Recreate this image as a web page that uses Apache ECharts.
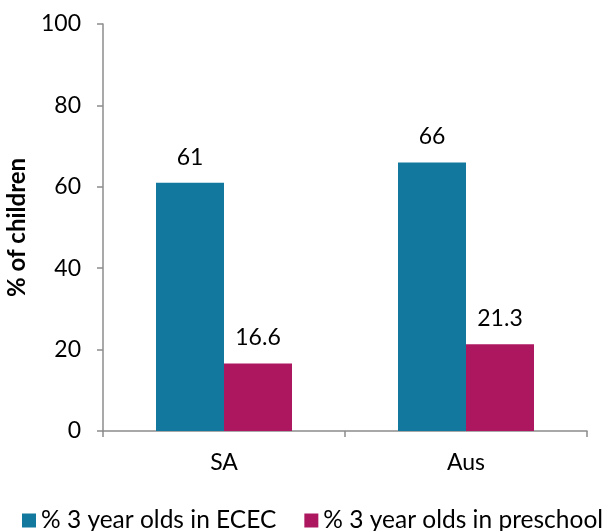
<!DOCTYPE html>
<html>
<head>
<meta charset="utf-8">
<script src="https://cdn.jsdelivr.net/npm/echarts@6/dist/echarts.min.js"></script>
<style>
html,body{margin:0;padding:0;background:#fff;}
#chart{width:614px;height:531px;}
</style>
</head>
<body>
<div id="chart"></div>
<script>
// Share of 3 year olds attending services, South Australia vs Australia
const categories = ['SA', 'Aus'];
const seriesNames = ['% 3 year olds in ECEC', '% 3 year olds in preschool'];
const ececValues = [61, 66];
const preschoolValues = [16.6, 21.3];
const yTicks = [0, 20, 40, 60, 80, 100];

const font = 'Lato, "Open Sans", sans-serif';
const axisGrey = '#8c8c8c';
const labelSize = 23;

const chart = echarts.init(document.getElementById('chart'));
chart.setOption({
  animation: false,
  textStyle: { fontFamily: font },
  grid: { left: 103, right: 27, top: 24, bottom: 100, outerBoundsMode: 'none', containLabel: false },
  legend: {
    bottom: -2,
    left: 22,
    padding: 0,
    itemWidth: 14,
    itemHeight: 14,
    itemGap: 28,
    icon: 'rect',
    textStyle: { fontFamily: font, fontSize: 24.5, color: '#000' },
    data: seriesNames
  },
  xAxis: {
    type: 'category',
    data: categories,
    axisLine: { lineStyle: { color: axisGrey, width: 1.5 } },
    axisTick: { show: true, length: 6, lineStyle: { color: axisGrey, width: 1.5 } },
    axisLabel: { fontFamily: font, fontSize: labelSize, color: '#000', margin: 20 }
  },
  yAxis: {
    type: 'value',
    min: yTicks[0],
    max: yTicks[yTicks.length - 1],
    interval: yTicks[1] - yTicks[0],
    name: '% of children',
    nameLocation: 'middle',
    nameGap: 74,
    nameRotate: 90,
    nameTextStyle: { fontFamily: font, fontSize: 24, fontWeight: 'bold', color: '#000' },
    splitLine: { show: false },
    axisLine: { show: true, lineStyle: { color: axisGrey, width: 1.5 } },
    axisTick: { show: true, length: 6, lineStyle: { color: axisGrey, width: 1.5 } },
    axisLabel: { fontFamily: font, fontSize: labelSize, color: '#000', margin: 22 }
  },
  series: [
    {
      name: seriesNames[0],
      type: 'bar',
      data: ececValues,
      barWidth: 68,
      barGap: '0%',
      itemStyle: { color: '#12789e' },
      label: { show: true, position: 'top', distance: 14, fontFamily: font, fontSize: labelSize, color: '#000' }
    },
    {
      name: seriesNames[1],
      type: 'bar',
      data: preschoolValues,
      barWidth: 68,
      barGap: '0%',
      itemStyle: { color: '#ad1760' },
      label: { show: true, position: 'top', distance: 14, fontFamily: font, fontSize: labelSize, color: '#000' }
    }
  ]
});
</script>
</body>
</html>
